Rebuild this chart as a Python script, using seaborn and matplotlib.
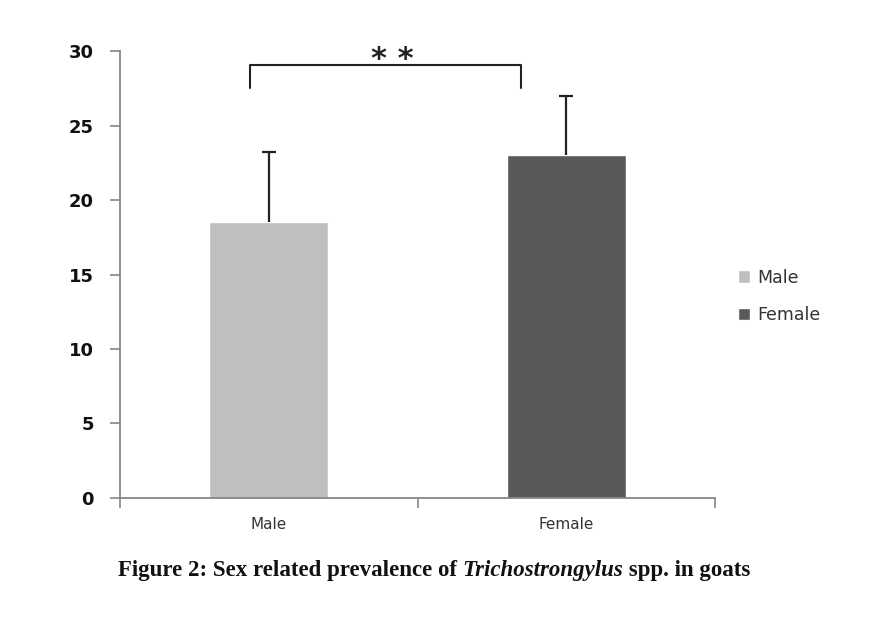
import numpy as np
import pandas as pd
import matplotlib
matplotlib.use("Agg")
import matplotlib.pyplot as plt
import seaborn as sns

# data
sexes = ["Male", "Female"]
prevalence = [18.5, 23.0]
err_upper = [4.7, 4.0]
bar_colors = ["#BFBFBF", "#595959"]
y_ticks = [0, 5, 10, 15, 20, 25, 30]
signif = "* *"
caption_parts = [("Figure 2: Sex related prevalence of ", "normal"),
                 ("Trichostrongylus", "italic"),
                 (" spp. in goats", "normal")]

df = pd.DataFrame({"Sex": sexes, "Prevalence": prevalence})

sns.set_style("white")
plt.rcParams["font.family"] = ["DejaVu Sans"]

fig = plt.figure(figsize=(8.7, 6.17), dpi=100)
ax = fig.add_axes([0.138, 0.193, 0.684, 0.724])

sns.barplot(data=df, x="Sex", y="Prevalence", hue="Sex", palette=bar_colors,
            width=0.4, ax=ax, legend=True, saturation=1, errorbar=None)

# upper-only error bars (hide the lower cap)
eb = ax.errorbar(np.arange(len(sexes)), prevalence,
                 yerr=[np.zeros(len(sexes)), err_upper],
                 fmt="none", ecolor="#222222", elinewidth=1.6, capsize=5,
                 capthick=1.6)
eb[1][0].set_visible(False)

# significance bracket
ax.plot([-0.064, -0.064, 0.846, 0.846], [27.5, 29.05, 29.05, 27.5],
        color="#222222", lw=1.5, clip_on=False)
ax.text(0.415, 28.45, signif, ha="center", va="bottom", fontsize=22,
        fontweight="bold", color="#222222")

ax.set_ylim(0, 30)
ax.set_xlim(-0.5, 1.5)
ax.set_yticks(y_ticks)
ax.set_yticklabels([str(t) for t in y_ticks], fontsize=13, fontweight="bold",
                   color="#111111")
ax.set_xticks([-0.5, 0.5, 1.5])
ax.set_xticklabels(["", "", ""])
ax.set_xticks([0, 1], minor=True)
ax.set_xticklabels(sexes, minor=True, fontsize=11, color="#333333")
ax.tick_params(axis="x", which="major", bottom=True, direction="out",
               length=7, color="#868686", width=1.2)
ax.tick_params(axis="x", which="minor", bottom=True, length=0, pad=14)
ax.tick_params(axis="y", left=True, direction="out", length=7,
               color="#868686", width=1.2, pad=12)
ax.set_xlabel("")
ax.set_ylabel("")

for s in ["top", "right"]:
    ax.spines[s].set_visible(False)
for s in ["left", "bottom"]:
    ax.spines[s].set_color("#868686")
    ax.spines[s].set_linewidth(1.3)

leg = ax.legend(loc="center left", bbox_to_anchor=(0.83, 0.52),
                bbox_transform=fig.transFigure, frameon=False, fontsize=12.5,
                handlelength=0.7, handleheight=0.7, labelspacing=1.1,
                handletextpad=0.45)
for t in leg.get_texts():
    t.set_color("#333333")

# caption built from pieces placed side by side
fig.canvas.draw()
renderer = fig.canvas.get_renderer()
x_px = 118
for txt, st in caption_parts:
    t = fig.text(x_px / 870, 0.076, txt, ha="left", va="center",
                 fontsize=16.5, family="Liberation Serif", style=st,
                 fontweight="bold", color="#111111")
    bb = t.get_window_extent(renderer)
    x_px = bb.x1

fig.savefig("out.png", dpi=100)
